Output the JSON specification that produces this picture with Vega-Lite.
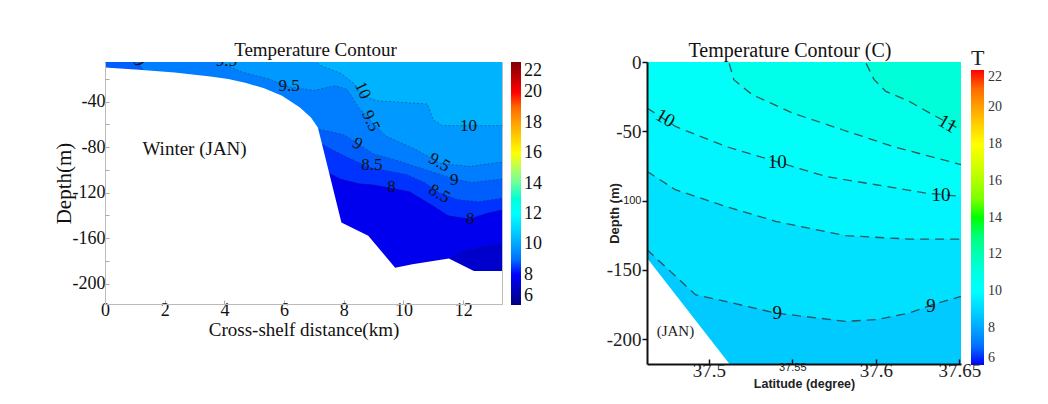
{
"$schema": "https://vega.github.io/schema/vega-lite/v6.json",
"background": "white",
"padding": {"left": 52, "top": 40, "right": 5, "bottom": 5},
"spacing": 63,
"config": {"view": {"stroke": null}, "axis": {"grid": false}},
"resolve": {"scale": {"color": "independent"}, "legend": {"color": "independent"}},
"datasets": {
"leftBands": [
{"x": 0, "d": -5, "T": 10.25}, {"x": 13.3, "d": -5, "T": 10.25},
{"x": 0, "d": -5, "T": 9.75}, {"x": 7.1, "d": -5, "T": 9.75}, {"x": 7.12, "d": -6, "T": 9.75}, {"x": 7.3, "d": -9, "T": 9.75}, {"x": 7.9, "d": -15, "T": 9.75}, {"x": 8.3, "d": -23, "T": 9.75}, {"x": 8.7, "d": -35, "T": 9.75}, {"x": 9.1, "d": -39, "T": 9.75}, {"x": 10.8, "d": -42, "T": 9.75}, {"x": 11.0, "d": -56, "T": 9.75}, {"x": 11.3, "d": -61, "T": 9.75}, {"x": 13.3, "d": -61, "T": 9.75},
{"x": 0, "d": -5, "T": 9.25}, {"x": 3.9, "d": -5, "T": 9.25}, {"x": 3.92, "d": -6, "T": 9.25}, {"x": 4.6, "d": -14, "T": 9.25}, {"x": 5.5, "d": -20, "T": 9.25}, {"x": 6.2, "d": -27, "T": 9.25}, {"x": 7.0, "d": -30, "T": 9.25}, {"x": 7.7, "d": -26, "T": 9.25}, {"x": 8.1, "d": -29, "T": 9.25}, {"x": 8.5, "d": -45, "T": 9.25}, {"x": 8.9, "d": -57, "T": 9.25}, {"x": 9.4, "d": -70, "T": 9.25}, {"x": 10.4, "d": -82, "T": 9.25}, {"x": 10.9, "d": -89, "T": 9.25}, {"x": 11.2, "d": -94, "T": 9.25}, {"x": 12.2, "d": -97, "T": 9.25}, {"x": 13.3, "d": -93, "T": 9.25},
{"x": 0, "d": -5, "T": 8.75}, {"x": 1.1, "d": -5, "T": 8.75}, {"x": 1.12, "d": -6, "T": 8.75}, {"x": 1.3, "d": -13, "T": 8.75}, {"x": 2.3, "d": -16, "T": 8.75}, {"x": 3.5, "d": -20, "T": 8.75}, {"x": 4.7, "d": -26, "T": 8.75}, {"x": 5.7, "d": -34, "T": 8.75}, {"x": 6.5, "d": -47, "T": 8.75}, {"x": 7.1, "d": -64, "T": 8.75}, {"x": 7.5, "d": -66, "T": 8.75}, {"x": 8.0, "d": -69, "T": 8.75}, {"x": 8.47, "d": -77, "T": 8.75}, {"x": 9.0, "d": -86, "T": 8.75}, {"x": 9.7, "d": -91, "T": 8.75}, {"x": 10.4, "d": -97, "T": 8.75}, {"x": 11.0, "d": -102, "T": 8.75}, {"x": 11.7, "d": -108, "T": 8.75}, {"x": 12.3, "d": -111, "T": 8.75}, {"x": 13.3, "d": -108, "T": 8.75},
{"x": 7.2, "d": -76, "T": 8.25}, {"x": 7.6, "d": -82, "T": 8.25}, {"x": 8.2, "d": -90, "T": 8.25}, {"x": 8.9, "d": -98, "T": 8.25}, {"x": 9.5, "d": -101, "T": 8.25}, {"x": 10.1, "d": -104, "T": 8.25}, {"x": 10.7, "d": -111, "T": 8.25}, {"x": 11.2, "d": -120, "T": 8.25}, {"x": 11.8, "d": -126, "T": 8.25}, {"x": 12.5, "d": -128, "T": 8.25}, {"x": 13.3, "d": -125, "T": 8.25},
{"x": 7.3, "d": -100, "T": 7.75}, {"x": 7.9, "d": -108, "T": 7.75}, {"x": 8.5, "d": -112, "T": 7.75}, {"x": 9.0, "d": -113, "T": 7.75}, {"x": 9.6, "d": -116, "T": 7.75}, {"x": 10.2, "d": -119, "T": 7.75}, {"x": 10.9, "d": -130, "T": 7.75}, {"x": 11.5, "d": -140, "T": 7.75}, {"x": 12.2, "d": -143, "T": 7.75}, {"x": 12.8, "d": -138, "T": 7.75}, {"x": 13.3, "d": -135, "T": 7.75},
{"x": 10.0, "d": -186, "T": 7.25}, {"x": 10.7, "d": -181, "T": 7.25}, {"x": 11.6, "d": -178, "T": 7.25}, {"x": 11.9, "d": -172, "T": 7.25}, {"x": 12.6, "d": -168, "T": 7.25}, {"x": 13.3, "d": -165, "T": 7.25}
],
"leftLand": [
{"x": 0, "d": -9.8}, {"x": 1.13, "d": -11.8}, {"x": 2.33, "d": -14.2}, {"x": 3.53, "d": -17.7}, {"x": 4.13, "d": -20}, {"x": 4.73, "d": -23.5}, {"x": 5.33, "d": -28.2}, {"x": 5.93, "d": -34.7}, {"x": 6.53, "d": -45}, {"x": 6.9, "d": -53.8}, {"x": 7.13, "d": -62.6}, {"x": 7.23, "d": -72.9}, {"x": 7.92, "d": -146.3}, {"x": 8.82, "d": -158}, {"x": 9.72, "d": -186}, {"x": 10.3, "d": -183}, {"x": 11.52, "d": -178}, {"x": 12.36, "d": -189}, {"x": 13.3, "d": -189}
],
"leftLabelsFlat": [
{"x": 6.17, "d": -26, "label": "9.5"}, {"x": 4.07, "d": -4.5, "label": "9.5"}, {"x": 8.94, "d": -96, "label": "8.5"}, {"x": 9.6, "d": -115, "label": "8"}, {"x": 12.18, "d": -61, "label": "10"}, {"x": 12.24, "d": -143, "label": "8"}, {"x": 11.7, "d": -109, "label": "9"}
],
"leftLabelsSteep": [
{"x": 8.63, "d": -30, "label": "10"}, {"x": 8.9, "d": -57, "label": "9.5"}, {"x": 1.13, "d": -4.5, "label": "9"}
],
"leftLabelsTilt": [
{"x": 8.46, "d": -77, "label": "9"}, {"x": 11.2, "d": -93.5, "label": "9.5"}, {"x": 11.2, "d": -121, "label": "8.5"}
],
"leftNote": [{"x": 3.0, "d": -82, "label": "Winter (JAN)"}],
"rightBands": [
{"lat": 37.463, "d": 0, "T": 11.25}, {"lat": 37.651, "d": 0, "T": 11.25},
{"lat": 37.463, "d": 0, "T": 10.75}, {"lat": 37.594, "d": 0, "T": 10.75}, {"lat": 37.5942, "d": -1, "T": 10.75}, {"lat": 37.599, "d": -12.8, "T": 10.75}, {"lat": 37.606, "d": -21.2, "T": 10.75}, {"lat": 37.62, "d": -28.4, "T": 10.75}, {"lat": 37.634, "d": -38, "T": 10.75}, {"lat": 37.651, "d": -48.9, "T": 10.75},
{"lat": 37.463, "d": 0, "T": 10.25}, {"lat": 37.512, "d": 0, "T": 10.25}, {"lat": 37.5122, "d": -1, "T": 10.25}, {"lat": 37.515, "d": -12.8, "T": 10.25}, {"lat": 37.526, "d": -23.6, "T": 10.25}, {"lat": 37.55, "d": -36.8, "T": 10.25}, {"lat": 37.58, "d": -48.9, "T": 10.25}, {"lat": 37.61, "d": -60.9, "T": 10.25}, {"lat": 37.651, "d": -74.1, "T": 10.25},
{"lat": 37.463, "d": -33.2, "T": 9.75}, {"lat": 37.48, "d": -46.5, "T": 9.75}, {"lat": 37.51, "d": -60.9, "T": 9.75}, {"lat": 37.54, "d": -71.7, "T": 9.75}, {"lat": 37.57, "d": -82.6, "T": 9.75}, {"lat": 37.6, "d": -88.6, "T": 9.75}, {"lat": 37.63, "d": -94.6, "T": 9.75}, {"lat": 37.651, "d": -97, "T": 9.75},
{"lat": 37.463, "d": -78.9, "T": 9.25}, {"lat": 37.48, "d": -92.2, "T": 9.25}, {"lat": 37.51, "d": -104.2, "T": 9.25}, {"lat": 37.54, "d": -115, "T": 9.25}, {"lat": 37.582, "d": -125.4, "T": 9.25}, {"lat": 37.62, "d": -127.8, "T": 9.25}, {"lat": 37.651, "d": -127.8, "T": 9.25},
{"lat": 37.463, "d": -135.5, "T": 8.75}, {"lat": 37.492, "d": -168, "T": 8.75}, {"lat": 37.51, "d": -172.8, "T": 8.75}, {"lat": 37.54, "d": -181.2, "T": 8.75}, {"lat": 37.582, "d": -187.2, "T": 8.75}, {"lat": 37.6, "d": -186, "T": 8.75}, {"lat": 37.62, "d": -181.2, "T": 8.75}, {"lat": 37.634, "d": -175.2, "T": 8.75}, {"lat": 37.651, "d": -169.2, "T": 8.75}
],
"rightLand": [{"lat": 37.463, "d": -141.5}, {"lat": 37.5124, "d": -218}],
"rightLabelsFlat": [
{"lat": 37.541, "d": -72.4, "label": "10"}, {"lat": 37.639, "d": -95.8, "label": "10"}, {"lat": 37.541, "d": -181, "label": "9"}, {"lat": 37.633, "d": -176, "label": "9"}
],
"rightLabelsTilt": [
{"lat": 37.474, "d": -40.4, "label": "10"}, {"lat": 37.643, "d": -44.5, "label": "11"}
],
"rightNote": [{"lat": 37.48, "d": -194.5, "label": "(JAN)"}]
},
"hconcat": [
{
"width": 397, "height": 242,
"view": {"stroke": "#bbbbbb"},
"title": {"text": "Temperature Contour", "font": "Liberation Serif", "fontSize": 19, "fontWeight": "normal", "color": "#111", "offset": 2, "dx": 12, "frame": "group"},
"encoding": {
"x": {"field": "x", "type": "quantitative", "scale": {"domain": [0, 13.3], "nice": false, "zero": false},
 "axis": {"values": [0, 2, 4, 6, 8, 10, 12], "title": "Cross-shelf distance(km)", "labelFont": "Liberation Serif", "labelFontSize": 18, "labelColor": "#111", "labelFlush": false, "labelPadding": 1, "tickSize": -4, "tickColor": "#aaaaaa", "domainColor": "#bbbbbb", "titleFont": "Liberation Serif", "titleFontSize": 19, "titleFontWeight": "normal", "titleColor": "#111", "titlePadding": 1, "zindex": 1}},
"y": {"field": "d", "type": "quantitative", "scale": {"domain": [-218, -5], "nice": false, "zero": false},
 "axis": {"values": [-200, -180, -160, -140, -120, -100, -80, -60, -40, -20], "labelExpr": "datum.value % 40 == 0 ? '' + datum.value : ''", "title": "Depth(m)", "labelFont": "Liberation Serif", "labelFontSize": 18, "labelColor": "#111", "labelPadding": 4, "tickSize": -4, "tickColor": "#aaaaaa", "domainColor": "#bbbbbb", "titleFont": "Liberation Serif", "titleFontSize": 21, "titleFontWeight": "normal", "titleColor": "#111", "titlePadding": -2, "zindex": 1}}
},
"layer": [
{"data": {"name": "leftBands"}, "mark": {"type": "area", "clip": true},
 "encoding": {"y2": {"datum": -218}, "color": {"field": "T", "type": "quantitative",
  "scale": {"domain": [6, 8, 12, 16, 20, 22], "range": ["#00007f", "#0000ff", "#00ffff", "#ffff00", "#ff0000", "#7f0000"]},
  "legend": {"title": null, "orient": "right", "offset": 9, "direction": "vertical", "gradientLength": 243, "gradientThickness": 10, "gradientStrokeWidth": 0, "values": [6, 8, 10, 12, 14, 16, 18, 20, 22], "labelFont": "Liberation Serif", "labelFontSize": 18, "labelColor": "#111", "labelOffset": 3, "labelBaseline": "middle"}}}},
{"data": {"name": "leftBands"}, "transform": [{"filter": "datum.d < -5.5"}], "mark": {"type": "line", "clip": true, "stroke": "#222222", "strokeWidth": 0.8, "strokeDash": [2, 2], "opacity": 0.5},
 "encoding": {"detail": {"field": "T"}}},
{"data": {"name": "leftLand"}, "mark": {"type": "area", "color": "white", "clip": true},
 "encoding": {"y2": {"datum": -218}}},
{"data": {"name": "leftLabelsFlat"}, "mark": {"type": "text", "font": "Liberation Serif", "fontSize": 17, "color": "#111", "clip": true},
 "encoding": {"text": {"field": "label"}}},
{"data": {"name": "leftLabelsSteep"}, "mark": {"type": "text", "font": "Liberation Serif", "fontSize": 17, "color": "#111", "angle": 65, "clip": true},
 "encoding": {"text": {"field": "label"}}},
{"data": {"name": "leftLabelsTilt"}, "mark": {"type": "text", "font": "Liberation Serif", "fontSize": 17, "color": "#111", "angle": 30, "clip": true},
 "encoding": {"text": {"field": "label"}}},
{"data": {"name": "leftNote"}, "mark": {"type": "text", "font": "Liberation Serif", "fontSize": 19, "color": "#111"},
 "encoding": {"text": {"field": "label"}}}
]
},
{
"width": 314, "height": 302,
"title": {"text": "Temperature Contour (C)", "font": "Liberation Serif", "fontSize": 20, "fontWeight": "normal", "color": "#111", "offset": -13, "dx": -14, "frame": "group"},
"encoding": {
"x": {"field": "lat", "type": "quantitative", "scale": {"domain": [37.463, 37.651], "nice": false, "zero": false},
 "axis": {"values": [37.5, 37.55, 37.6, 37.65], "format": ".2~f", "title": "Latitude (degree)",
  "labelFont": {"condition": {"test": "abs(datum.value - 37.55) < 0.001", "value": "Liberation Sans"}, "value": "Liberation Serif"},
  "labelFontSize": {"condition": {"test": "abs(datum.value - 37.55) < 0.001", "value": 11}, "value": 19},
  "labelColor": "#222", "labelPadding": 2, "tickSize": -5, "tickColor": "#111", "tickWidth": 1.5, "domainColor": "#111", "domainWidth": 2,
  "titleFont": "Liberation Sans", "titleFontSize": 12.5, "titleFontWeight": "bold", "titleColor": "#222", "titlePadding": -3, "zindex": 1}},
"y": {"field": "d", "type": "quantitative", "scale": {"domain": [-218, 0], "nice": false, "zero": false},
 "axis": {"values": [0, -50, -100, -150, -200], "labelExpr": "'' + datum.value", "title": "Depth (m)",
  "labelFont": {"condition": {"test": "datum.value == -100", "value": "Liberation Sans"}, "value": "Liberation Serif"},
  "labelFontSize": {"condition": {"test": "datum.value == -100", "value": 11}, "value": 19},
  "labelColor": "#222", "labelPadding": 1, "tickSize": 5, "tickColor": "#111", "tickWidth": 1.5, "domainColor": "#111", "domainWidth": 2,
  "titleFont": "Liberation Sans", "titleFontSize": 13, "titleFontWeight": "bold", "titleColor": "#222", "titlePadding": -15, "zindex": 1}}
},
"layer": [
{"data": {"name": "rightBands"}, "mark": {"type": "area", "clip": true},
 "encoding": {"y2": {"datum": -218}, "color": {"field": "T", "type": "quantitative",
  "scale": {"domain": [6, 10, 14, 18, 22], "range": ["#0000ff", "#00ffff", "#00ff00", "#ffff00", "#ff0000"]},
  "legend": {"title": "T", "orient": "none", "legendX": 324, "legendY": -14, "direction": "vertical", "gradientLength": 295, "gradientThickness": 13, "gradientStrokeWidth": 0, "values": [6, 8, 10, 12, 14, 16, 18, 20, 22], "labelFont": "Liberation Serif", "labelFontSize": 14, "labelColor": "#333", "labelOffset": 4, "titleFont": "Liberation Serif", "titleFontSize": 22, "titleFontWeight": "normal", "titleColor": "#222", "titlePadding": 0}}}},
{"data": {"name": "rightBands"}, "transform": [{"filter": "datum.d < -0.5"}], "mark": {"type": "line", "clip": true, "stroke": "#333333", "strokeWidth": 1.3, "strokeDash": [9, 6], "opacity": 0.8},
 "encoding": {"detail": {"field": "T"}}},
{"data": {"name": "rightLand"}, "mark": {"type": "area", "color": "white", "clip": true},
 "encoding": {"y2": {"datum": -218}}},
{"data": {"name": "rightLabelsFlat"}, "mark": {"type": "text", "font": "Liberation Serif", "fontSize": 19, "color": "#111"},
 "encoding": {"text": {"field": "label"}}},
{"data": {"name": "rightLabelsTilt"}, "mark": {"type": "text", "font": "Liberation Serif", "fontSize": 19, "color": "#111", "angle": 30},
 "encoding": {"text": {"field": "label"}}},
{"data": {"name": "rightNote"}, "mark": {"type": "text", "font": "Liberation Serif", "fontSize": 15, "color": "#222"},
 "encoding": {"text": {"field": "label"}}}
]
}
]
}
